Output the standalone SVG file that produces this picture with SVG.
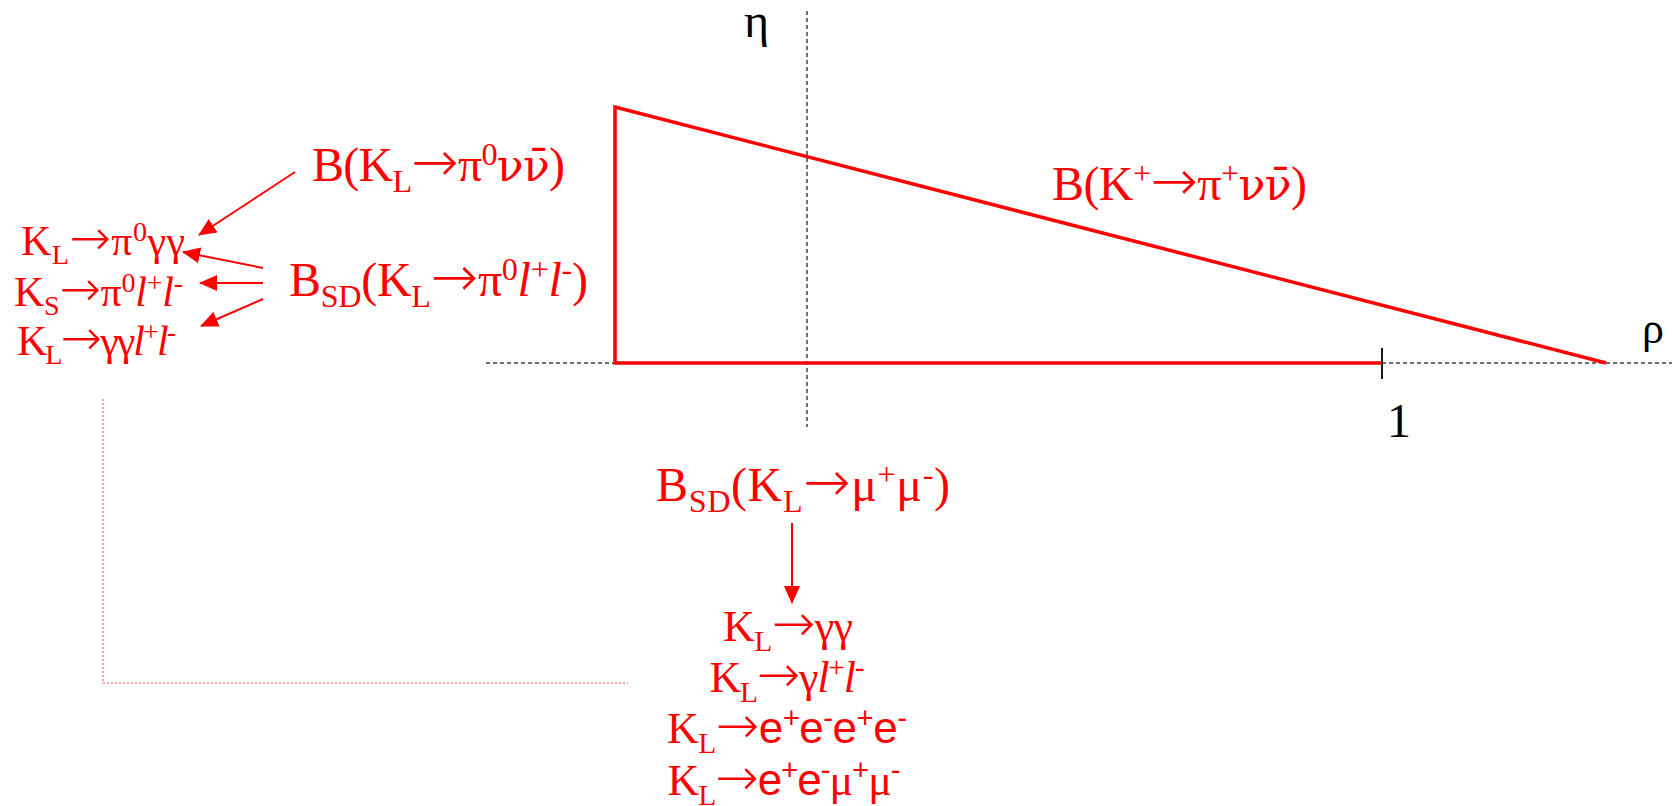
<svg xmlns="http://www.w3.org/2000/svg" width="1672" height="806" viewBox="0 0 1672 806">
<style>
.t{fill:#ff0000;font-family:"Liberation Serif","DejaVu Serif",serif}
.k{fill:#000;font-family:"Liberation Serif","DejaVu Serif",serif}
.big{font-size:48px}
.mid{font-size:44px}
.sm{font-size:42px}
.s{font-size:67%}
.it{font-style:italic}
.ar{font-family:"DejaVu Sans",sans-serif;font-size:118%;font-weight:200}
.dv{font-family:"DejaVu Serif",serif;font-size:92%}
.sans{font-family:"Liberation Sans","DejaVu Sans",sans-serif}
.axis{stroke:#404040;stroke-width:1.5;stroke-dasharray:4 3;fill:none}
.tri{stroke:#ff0000;stroke-width:3.5;fill:none}
.arr{stroke:#ff0000;stroke-width:2;fill:none;marker-end:url(#ah)}
.dot{stroke:#ff8080;stroke-width:1.5;stroke-dasharray:2 2;fill:none}
</style>
<defs>
<marker id="ah" viewBox="0 0 18 16" refX="17" refY="8" markerWidth="18" markerHeight="16" markerUnits="userSpaceOnUse" orient="auto">
<path d="M0,0 L18,8 L0,16 Z" fill="#ff0000"/>
</marker>
</defs>
<rect width="1672" height="806" fill="#fff"/>

<g id="axes">
<line class="axis" x1="486" y1="363" x2="1672" y2="363"/>
<line class="axis" x1="807" y1="11" x2="807" y2="427"/>
<line x1="1382" y1="348" x2="1382" y2="379" stroke="#000" stroke-width="1.8"/>
<text class="k" x="744" y="37" font-size="48">η</text>
<text class="k" x="1642" y="343" font-size="44">ρ</text>
<text class="k" x="1387" y="437" font-size="48">1</text>
</g>

<g id="triangle">
<polyline class="tri" points="1382,363 615,363 615,107 1606,363"/>
</g>

<g id="n_bkplus">
<text class="t big" x="1052" y="200" textLength="255">B(K<tspan class="s" dy="-16">+</tspan><tspan dy="16" class="ar">→</tspan>π<tspan class="s" dy="-16">+</tspan><tspan dy="16" class="dv">νν̄</tspan>)</text>
</g>

<g id="n_bkl">
<text class="t big" x="312" y="181" textLength="253">B(K<tspan class="s" dy="11">L</tspan><tspan dy="-11" class="ar">→</tspan>π<tspan class="s" dy="-16">0</tspan><tspan dy="16" class="dv">νν̄</tspan>)</text>
</g>

<g id="n_bsd_pill">
<text class="t big" x="289" y="296" textLength="299">B<tspan class="s" dy="11">SD</tspan><tspan dy="-11">(K</tspan><tspan class="s" dy="11">L</tspan><tspan dy="-11" class="ar">→</tspan>π<tspan class="s" dy="-16">0</tspan><tspan dy="16" class="it">l</tspan><tspan class="s" dy="-16">+</tspan><tspan dy="16" class="it">l</tspan><tspan class="s" dy="-16">-</tspan><tspan dy="16">)</tspan></text>
</g>

<g id="n_left1">
<text class="t sm" x="21" y="255" textLength="164">K<tspan class="s" dy="9">L</tspan><tspan dy="-9" class="ar">→</tspan>π<tspan class="s" dy="-14">0</tspan><tspan dy="14">γγ</tspan></text>
</g>
<g id="n_left2">
<text class="t sm" x="14" y="306" textLength="169">K<tspan class="s" dy="9">S</tspan><tspan dy="-9" class="ar">→</tspan>π<tspan class="s" dy="-14">0</tspan><tspan dy="14" class="it">l</tspan><tspan class="s" dy="-14">+</tspan><tspan dy="14" class="it">l</tspan><tspan class="s" dy="-14">-</tspan></text>
</g>
<g id="n_left3">
<text class="t sm" x="17" y="355" textLength="159">K<tspan class="s" dy="9">L</tspan><tspan dy="-9" class="ar">→</tspan>γγ<tspan class="it">l</tspan><tspan class="s" dy="-14">+</tspan><tspan dy="14" class="it">l</tspan><tspan class="s" dy="-14">-</tspan></text>
</g>

<g id="n_bsd_mumu">
<text class="t big" x="656" y="501" textLength="294">B<tspan class="s" dy="11">SD</tspan><tspan dy="-11">(K</tspan><tspan class="s" dy="11">L</tspan><tspan dy="-11" class="ar">→</tspan>μ<tspan class="s" dy="-16">+</tspan><tspan dy="16">μ</tspan><tspan class="s" dy="-16">-</tspan><tspan dy="16">)</tspan></text>
</g>

<g id="n_bottom">
<text class="t mid" x="788" y="641" text-anchor="middle" textLength="130">K<tspan class="s" dy="10">L</tspan><tspan dy="-10" class="ar">→</tspan>γγ</text>
<text class="t mid" x="787" y="692" text-anchor="middle" textLength="155">K<tspan class="s" dy="10">L</tspan><tspan dy="-10" class="ar">→</tspan>γ<tspan class="it">l</tspan><tspan class="s" dy="-15">+</tspan><tspan dy="15" class="it">l</tspan><tspan class="s" dy="-15">-</tspan></text>
<text class="t mid" x="787" y="743" text-anchor="middle" textLength="240">K<tspan class="s" dy="10">L</tspan><tspan dy="-10" class="ar">→</tspan><tspan class="sans">e</tspan><tspan class="s sans" dy="-15">+</tspan><tspan dy="15" class="sans">e</tspan><tspan class="s sans" dy="-15">-</tspan><tspan dy="15" class="sans">e</tspan><tspan class="s sans" dy="-15">+</tspan><tspan dy="15" class="sans">e</tspan><tspan class="s sans" dy="-15">-</tspan></text>
<text class="t mid" x="784" y="795" text-anchor="middle" textLength="233">K<tspan class="s" dy="10">L</tspan><tspan dy="-10" class="ar">→</tspan><tspan class="sans">e</tspan><tspan class="s sans" dy="-15">+</tspan><tspan dy="15" class="sans">e</tspan><tspan class="s sans" dy="-15">-</tspan><tspan dy="15">μ</tspan><tspan class="s sans" dy="-15">+</tspan><tspan dy="15">μ</tspan><tspan class="s sans" dy="-15">-</tspan></text>
</g>

<g id="connectors">
<line class="arr" x1="295" y1="172" x2="199" y2="235"/>
<line class="arr" x1="263" y1="268" x2="183" y2="252"/>
<line class="arr" x1="263" y1="283" x2="200" y2="283"/>
<line class="arr" x1="263" y1="299" x2="201" y2="326"/>
<line class="arr" x1="792" y1="523" x2="792" y2="603"/>
<polyline class="dot" points="103,399 103,683 628,683"/>
</g>
</svg>
